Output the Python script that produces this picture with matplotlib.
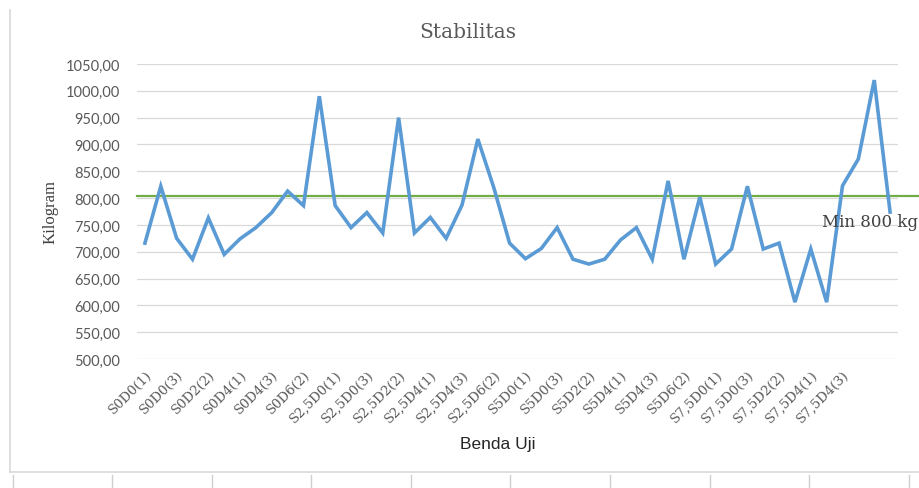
import matplotlib
matplotlib.use("Agg")
import matplotlib.pyplot as plt
from matplotlib.lines import Line2D
from matplotlib.ticker import FuncFormatter

# data
s_levels = ["0", "2,5", "5", "7,5"]
d_levels = ["0", "2", "4", "6"]
replicates = ["1", "2", "3"]
categories = [f"S{s}D{d}({r})" for s in s_levels for d in d_levels for r in replicates]

stability = [716, 822, 725, 686, 763, 695, 724, 745, 773, 813, 786, 990,
             786, 745, 773, 735, 950, 735, 764, 725, 787, 910, 820, 716,
             687, 706, 745, 686, 677, 686, 722, 745, 686, 832, 686, 802,
             677, 705, 822, 705, 716, 606, 705, 606, 823, 873, 1020, 774]
min_limit = 804
y_ticks = [500, 550, 600, 650, 700, 750, 800, 850, 900, 950, 1000, 1050]

W, H = 920, 489
fig = plt.figure(figsize=(W / 100, H / 100), dpi=100)
ax = fig.add_axes([137 / W, 1 - 360 / H, 761 / W, 295 / H])

x = list(range(len(categories)))
ax.plot(x, stability, color='#5B9BD5', linewidth=2.6, solid_joinstyle='miter', zorder=3)

# minimum line, runs a bit past the plot area
ax.plot([0, 1.03], [min_limit, min_limit], transform=ax.get_yaxis_transform(),
        color='#70AD47', linewidth=1.6, clip_on=False, zorder=2)
ax.text(0.900, 757, 'Min 800 kg', transform=ax.get_yaxis_transform(),
        fontsize=12, family='DejaVu Serif', color='#404040', va='center',
        ha='left', clip_on=False, zorder=4)

ax.set_xlim(-0.5, len(categories) - 0.5)
ax.set_ylim(500, 1050)
ax.set_yticks(y_ticks)
ax.yaxis.set_major_formatter(FuncFormatter(lambda v, p: f"{v:.2f}".replace('.', ',')))
ax.yaxis.grid(True, color='#d9d9d9', linewidth=0.9)
ax.set_axisbelow(True)
for sp in ax.spines.values():
    sp.set_visible(False)
ax.tick_params(axis='both', length=0)
for lab in ax.get_yticklabels():
    lab.set_family('Lato')
    lab.set_fontsize(10.5)
    lab.set_color('#595959')
ax.tick_params(axis='y', pad=12)

ax.set_xticks(x[0:45:2])
ax.set_xticklabels(categories[0:45:2], rotation=45, ha='right', rotation_mode='anchor',
                   family='DejaVu Serif', fontsize=9.5, color='#595959')
ax.tick_params(axis='x', pad=6)

ax.set_ylabel('Kilogram', family='Liberation Serif', fontsize=12, color='#404040',
              labelpad=5)

fig.text(468 / W, 1 - 33 / H, 'Stabilitas', ha='center', va='center',
         family='DejaVu Serif', fontsize=14.5, color='#595959')
fig.text(498 / W, 1 - 445 / H, 'Benda Uji', ha='center', va='center',
         family='Liberation Sans', fontsize=12.5, color='#262626')

# chart frame and spreadsheet cells below
frame = '#d9d9d9'
fig.add_artist(Line2D([10 / W, 10 / W], [1 - 11 / H, 1 - 473 / H], color=frame, linewidth=1.2))
fig.add_artist(Line2D([10 / W, 1], [1 - 473 / H, 1 - 473 / H], color=frame, linewidth=1.2))
for cx in [13, 112, 212, 311, 411, 510, 610, 710, 809, 909]:
    fig.add_artist(Line2D([cx / W, cx / W], [1 - 476 / H, 0], color='#cfcfcf', linewidth=1.0))

fig.savefig('out.png', dpi=100)
